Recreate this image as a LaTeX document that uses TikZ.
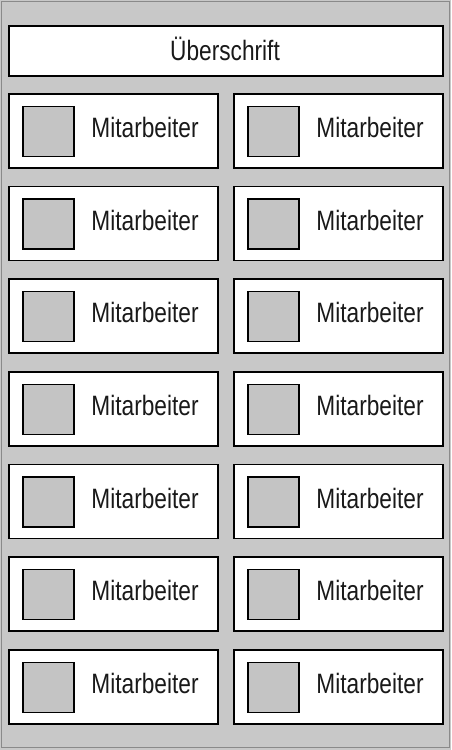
\documentclass[tikz,border=0pt]{standalone}
\usepackage{fontspec}
\setmainfont{Liberation Sans}
\definecolor{bg}{HTML}{C8C8C8}
\definecolor{sq}{HTML}{C4C4C4}
\definecolor{frame}{HTML}{8A8A8A}
\tikzset{
  card/.style={draw=black, fill=white, line width=1.6pt, minimum width=209pt, minimum height=74pt, inner sep=0pt, anchor=north west},
  photo/.style={draw=black, fill=sq, line width=1.6pt, minimum width=51pt, minimum height=50pt, inner sep=0pt, anchor=north west},
  lbl/.style={font=\fontsize{28}{28}\selectfont, inner sep=0pt, xscale=0.81, anchor=base, text=black!90}
}
\begin{document}
\begin{tikzpicture}[x=1pt,y=-1pt]
\useasboundingbox (0,0) rectangle (451,750);
\fill[bg] (0,0) rectangle (451,750);
\draw[frame, line width=1pt] (1.5,1.5) rectangle (449,747);
\node[card, minimum width=434pt, minimum height=50pt] (head) at (8,25) {};
\node[lbl] (headt) at (225,60) {Überschrift};
\foreach \r in {0,...,6}{
  \foreach \c/\x in {l/8, r/233}{
    \pgfmathsetmacro{\y}{93+\r*92.67}
    \node[card] (card\c\r) at (\x,\y) {};
    \node[photo] (photo\c\r) at ([xshift=14pt,yshift=-12.5pt]card\c\r.north west) {};
    \node[lbl] (text\c\r) at ([xshift=137pt,yshift=-44.6pt]card\c\r.north west) {Mitarbeiter};
  }
}
\end{tikzpicture}
\end{document}
